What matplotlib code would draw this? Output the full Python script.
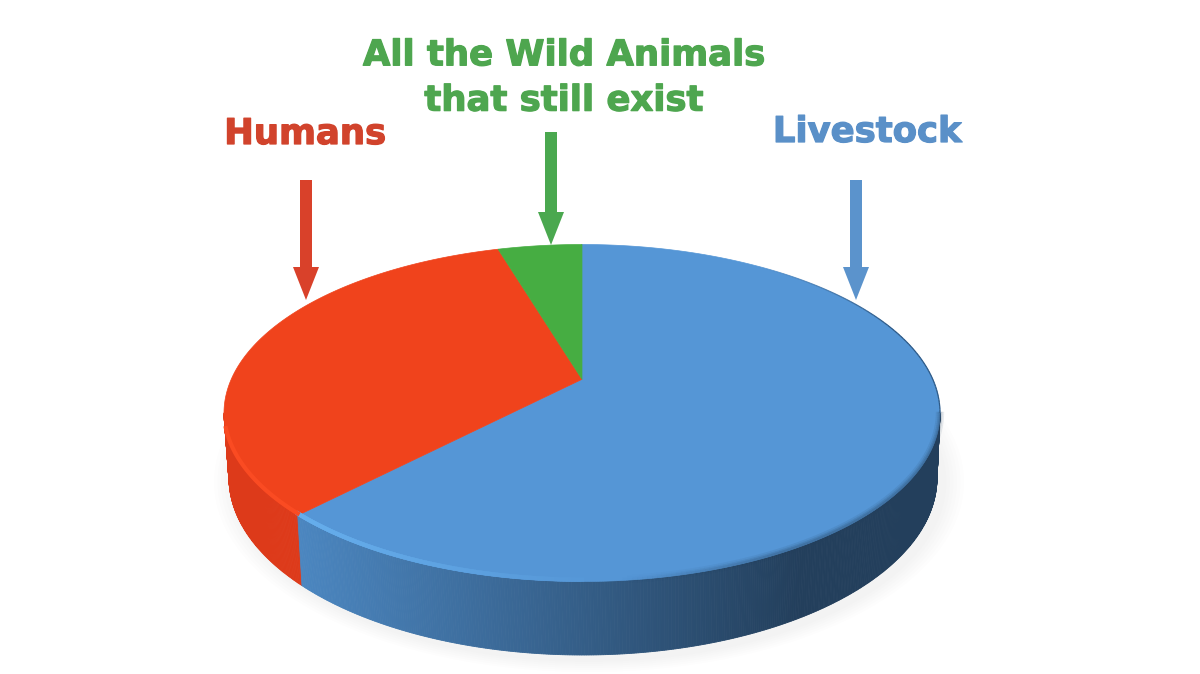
import numpy as np
import matplotlib
matplotlib.use("Agg")
import matplotlib.pyplot as plt
import matplotlib.patheffects as pe
from matplotlib.colors import to_rgb
from matplotlib.patches import Ellipse

# data (clockwise from 12 o'clock)
categories = ["Livestock", "Humans", "All the Wild Animals\nthat still exist"]
values = [62.2, 33.2, 4.6]
top_colors = ["#5596d6", "#f0431c", "#46ad42"]
text_colors = ["#5a90c8", "#d1432c", "#4ea64f"]
arrow_colors = ["#5b93cc", "#d9412a", "#4aa84f"]
label_xy = [(867, 132), (305, 134), (564, 78)]
arrow_x = [856, 306, 551]
arrow_y = [(180, 300), (180, 300), (132, 245)]

CX, CY, RX, RY = 582, 413, 358, 168.5
BX, BY, BRX, BRY = 583, 478, 354, 177
APEX_SHIFT = 0.2   # perspective shift of the pie centre

fig = plt.figure(figsize=(12, 6.74), dpi=100, facecolor="white")
ax = fig.add_axes([0, 0, 1, 1])
ax.set_xlim(0, 1200)
ax.set_ylim(674, 0)
ax.axis("off")


def norm(t):
    x, y = np.cos(t), np.sin(t)
    d = 1 + APEX_SHIFT * y
    return x * np.sqrt(1 - APEX_SHIFT ** 2) / d, (y + APEX_SHIFT) / d


def top(t):
    x, y = norm(t)
    return CX + RX * x, CY - RY * y


def bottom(t):
    x, y = norm(t)
    return BX + BRX * x, BY - BRY * y


# soft shadow
for i in range(6):
    ax.add_patch(Ellipse((BX + 6, BY + 4), 2 * BRX + 42 - 7 * i, 2 * BRY + 26 - 4 * i,
                         fc="#8a7a7a", ec="none", alpha=0.012, zorder=1))

# true angles of slice boundaries, clockwise from the top
fracs = np.array(values) / sum(values)
edges = np.pi / 2 - 2 * np.pi * np.concatenate([[0], np.cumsum(fracs)])

# side wall of the front half (angles running from the left round the front to the right)
side_light = np.array(to_rgb("#4b86c0"))
side_dark = np.array(to_rgb("#233f5c"))
side_red = "#dd3a1a"
LEFT, RIGHT = -np.pi + 0.2, -0.2
ts = np.linspace(LEFT, RIGHT, 500)
for t0, t1 in zip(ts[:-1], ts[1:]):
    (x0, y0), (x1, y1) = top(t0), top(t1)
    (x2, y2), (x3, y3) = bottom(t1), bottom(t0)
    tm = (t0 + t1) / 2
    xm = top(tm)[0]
    if tm < edges[1]:
        c = side_red
    else:
        f = np.clip((xm - 300) / 500, 0, 1)
        c = side_light * (1 - f) + side_dark * f
    ax.fill([x0, x1, x2, x3], [y0, y1, y2, y3], color=c, lw=0.6, ec=c, zorder=2)

# top face slices
for i, c in enumerate(top_colors):
    t = np.linspace(edges[i], edges[i + 1], 400)
    px, py = top(t)
    ax.fill(np.r_[CX, px], np.r_[CY - RY * APEX_SHIFT, py], color=c, lw=0.5, ec=c, zorder=3)

# rim highlight at the front left
rim = np.linspace(edges[1], -np.pi / 2, 120)
for a, b in zip(rim[:-1], rim[1:]):
    px, py = top(np.array([a, b]))
    f = np.clip((px[0] - 298) / (600 - 298), 0, 1)
    col = np.array(to_rgb("#66aeec")) * (1 - f) + np.array(to_rgb("#5596d6")) * f
    ax.plot(px, py - 2, color=col, lw=3, zorder=4)
rp = top(np.linspace(LEFT + 0.1, edges[1], 80))
ax.plot(rp[0], rp[1] - 2, color="#fa4b22", lw=3, zorder=4)

# dark blur at the front right, fading in towards the right
seg = np.linspace(-np.pi * 0.5, RIGHT, 120)
for a, b in zip(seg[:-1], seg[1:]):
    px, py = top(np.array([a, b]))
    f = np.clip((px[0] - 620) / 160, 0, 1)
    for lw, alpha in [(6, 0.10), (3.5, 0.15), (1.5, 0.2)]:
        ax.plot(px, py - 1, color="#233f5c", lw=lw, alpha=alpha * f, zorder=4,
                solid_capstyle="butt")

# thin outline at the right, fading out upwards
seg = np.linspace(RIGHT, 0.95, 60)
for a, b in zip(seg[:-1], seg[1:]):
    px, py = top(np.array([a, b]))
    f = np.clip((0.95 - a) / 0.6, 0, 1)
    ax.plot(px, py, color="#2f5a86", lw=0.9, alpha=f, zorder=4, solid_capstyle="butt")

# arrows
for x, (y0, y1), c in zip(arrow_x, arrow_y, arrow_colors):
    ax.arrow(x, y0, 0, y1 - y0, width=12, head_width=26, head_length=33,
             length_includes_head=True, fc=c, ec="none", zorder=5)

# labels
for name, (x, y), c in zip(categories, label_xy, text_colors):
    ax.text(x, y, name, color=c, ha="center", va="center", fontsize=25.5,
            fontweight="bold", family="DejaVu Sans", linespacing=1.42, zorder=6,
            path_effects=[pe.withStroke(linewidth=0.9, foreground=c)])

fig.savefig("out.png", dpi=100, facecolor="white")
